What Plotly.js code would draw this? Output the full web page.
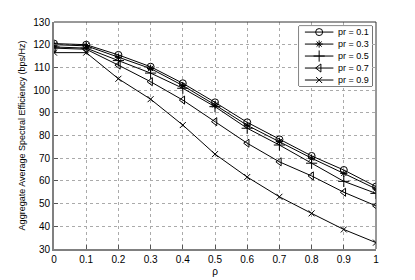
<!DOCTYPE html>
<html>
<head>
<meta charset="utf-8">
<script src="https://cdn.plot.ly/plotly-3.0.1.min.js"></script>
<style>html,body{margin:0;padding:0;background:#fff;}#chart{width:415px;height:280px;}</style>
</head>
<body>
<div id="chart"></div>
<script>
var rho = [0, 0.1, 0.2, 0.3, 0.4, 0.5, 0.6, 0.7, 0.8, 0.9, 1];
var seriesNames = ["pr = 0.1", "pr = 0.3", "pr = 0.5", "pr = 0.7", "pr = 0.9"];
var pr01 = [120.5, 120.0, 115.5, 110.3, 103.0, 94.6, 85.8, 78.3, 71.0, 64.8, 57.5];
var pr03 = [120.0, 119.5, 114.5, 109.5, 102.0, 93.5, 84.5, 77.3, 70.0, 63.3, 56.5];
var pr05 = [119.0, 118.5, 113.0, 107.5, 100.8, 92.7, 83.2, 75.8, 67.8, 59.8, 54.5];
var pr07 = [118.5, 118.0, 111.0, 103.7, 95.6, 86.1, 76.6, 68.4, 62.2, 55.0, 49.0];
var pr09 = [116.5, 116.5, 105.0, 96.0, 84.6, 71.8, 61.7, 53.0, 45.7, 38.6, 32.8];
var xTicks = [0, 0.1, 0.2, 0.3, 0.4, 0.5, 0.6, 0.7, 0.8, 0.9, 1];
var yTicks = [30, 40, 50, 60, 70, 80, 90, 100, 110, 120, 130];

var allY = [pr01, pr03, pr05, pr07, pr09];
var symbols = ["circle-open", "asterisk-open", "cross-thin-open", "triangle-left-open", "x-thin-open"];
var sizes = [7, 6, 8, 7, 6];

var traces = [];
allY.forEach(function (ys, i) {
  traces.push({
    x: rho, y: ys, name: seriesNames[i], type: "scatter", mode: "lines+markers",
    line: {color: "#000", width: 1},
    marker: {symbol: symbols[i], size: sizes[i], color: "#000", line: {color: "#000", width: 1}},
    showlegend: false
  });
});

// Custom compact legend (MATLAB style) drawn on an overlay axis
var font = "Liberation Sans, Arial, sans-serif";
var annotations = [];
seriesNames.forEach(function (nm, i) {
  var row = i + 0.5;
  traces.push({
    x: [0.08, 0.47], y: [row, row], xaxis: "x2", yaxis: "y2", mode: "lines",
    line: {color: "#000", width: 1}, showlegend: false, hoverinfo: "skip"
  });
  traces.push({
    x: [0.275], y: [row], xaxis: "x2", yaxis: "y2", mode: "markers",
    marker: {symbol: symbols[i], size: sizes[i], color: "#000", line: {color: "#000", width: 1}},
    showlegend: false, hoverinfo: "skip"
  });
  annotations.push({
    xref: "x2", yref: "y2", x: 0.5, y: row, text: nm, showarrow: false,
    xanchor: "left", yanchor: "middle", font: {family: font, size: 9, color: "#000"}
  });
});

var legX0 = 0.761, legX1 = 0.988, legY0 = 0.718, legY1 = 0.982;

var layout = {
  width: 415, height: 280,
  margin: {l: 54, r: 39, t: 22, b: 31},
  paper_bgcolor: "#fff", plot_bgcolor: "#fff",
  font: {family: font, size: 10, color: "#000"},
  showlegend: false,
  xaxis: {
    range: [0, 1], tickvals: xTicks, ticktext: xTicks.map(String),
    showgrid: true, gridcolor: "#aaa", griddash: "dot", gridwidth: 1,
    zeroline: false, showline: true, linecolor: "#808080", linewidth: 2,
    ticks: "inside", ticklen: 4, tickcolor: "#555",
    tickfont: {family: font, size: 10, color: "#000"},
    title: {text: "ρ", font: {family: font, size: 10, color: "#000"}, standoff: 4}
  },
  yaxis: {
    range: [30, 130], tickvals: yTicks,
    showgrid: true, gridcolor: "#aaa", griddash: "dot", gridwidth: 1,
    zeroline: false, showline: true, linecolor: "#808080", linewidth: 2,
    ticks: "inside", ticklen: 4, tickcolor: "#555",
    tickfont: {family: font, size: 10, color: "#000"},
    title: {text: "Aggregate Average Spectral Efficiency (bps/Hz)", font: {family: font, size: 9, color: "#000"}, standoff: 6}
  },
  xaxis2: {domain: [legX0, legX1], range: [0, 1], anchor: "y2", visible: false, fixedrange: true},
  yaxis2: {domain: [legY0, legY1], range: [5, 0], anchor: "x2", visible: false, fixedrange: true},
  annotations: annotations,
  shapes: [
    {type: "line", xref: "paper", yref: "paper", x0: 0, x1: 1, y0: 1, y1: 1, line: {color: "#333", width: 1}},
    {type: "line", xref: "paper", yref: "paper", x0: 1, x1: 1, y0: 0, y1: 1, line: {color: "#333", width: 1}},
    {type: "rect", xref: "paper", yref: "paper", x0: legX0, x1: legX1, y0: legY0, y1: legY1,
     layer: "between", fillcolor: "#fff", line: {color: "#000", width: 1}}
  ]
};

Plotly.newPlot("chart", traces, layout, {displayModeBar: false, staticPlot: true});
</script>
</body>
</html>
